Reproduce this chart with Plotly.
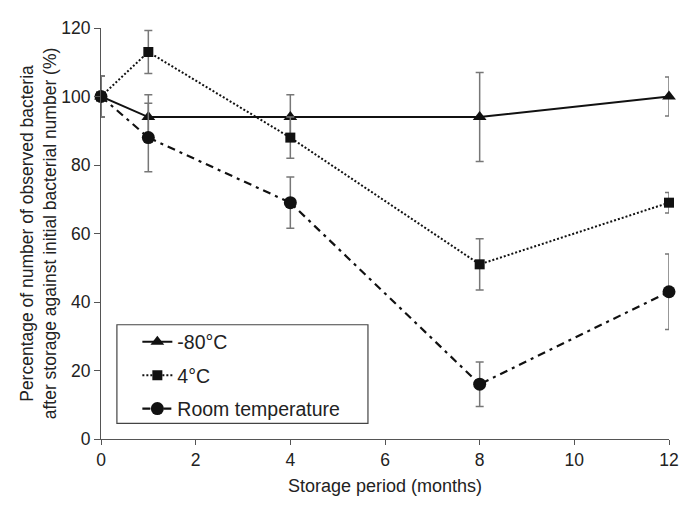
import plotly.graph_objects as go

months = [0, 1, 4, 8, 12]

minus80 = [100, 94, 94, 94, 100]
minus80_err = [6, 6.5, 6.5, 13, 5.7]

four_c = [100, 113, 88, 51, 69]
four_c_err = [6, 6.3, 6, 7.5, 3]

room = [100, 88, 69, 16, 43]
room_err = [6, 10, 7.5, 6.5, 11]

series = [
    ("-80°C", minus80, minus80_err, "solid", 2, "triangle-up", 12),
    ("4°C", four_c, four_c_err, "2px,2px", 2, "square", 10),
    ("Room temperature", room, room_err, "8px,5px,3px,5px", 2.2, "circle", 13),
]

fig = go.Figure()
for name, ys, errs, dash, lw, sym, size in series:
    fig.add_trace(go.Scatter(
        x=months, y=ys, name=name, mode="lines+markers", legendgroup=name,
        line=dict(color="#111111", width=lw, dash=dash),
        marker=dict(symbol=sym, size=size, color="#111111"),
        error_y=dict(type="data", array=errs, visible=True,
                     color="#777777", thickness=1.5, width=4),
        cliponaxis=False,
    ))

FONT = "Liberation Sans, Arial, sans-serif"
tick_font = dict(family=FONT, size=17.5, color="#222222")
fig.update_layout(
    width=682, height=502,
    margin=dict(l=93, r=21, t=10, b=71),
    paper_bgcolor="white", plot_bgcolor="white",
    font=dict(family=FONT, color="#222222"),
    showlegend=True,
    legend=dict(x=0.064, y=0.283, xanchor="left", yanchor="top",
                bgcolor="rgba(0,0,0,0)", borderwidth=0,
                font=dict(size=19.5, color="#222222"),
                itemwidth=30, tracegroupgap=5),
    shapes=[dict(type="rect", xref="paper", yref="paper",
                 x0=0.028, x1=0.47, y0=0.038, y1=0.278,
                 line=dict(color="#444444", width=1.2), fillcolor="white",
                 layer="below")],
)
fig.update_xaxes(
    range=[0, 12], tickvals=[0, 2, 4, 6, 8, 10, 12],
    showline=True, linecolor="#555555", linewidth=1.2,
    ticks="outside", ticklen=5, tickcolor="#555555",
    showgrid=False, zeroline=False, tickfont=tick_font,
    title=dict(text="Storage period (months)", font=dict(size=18, color="#222222"), standoff=10),
)
fig.update_yaxes(
    range=[0, 120], tickvals=[0, 20, 40, 60, 80, 100, 120],
    showline=True, linecolor="#555555", linewidth=1.2,
    ticks="outside", ticklen=6, tickcolor="#555555",
    showgrid=False, zeroline=False, tickfont=tick_font,
    title=dict(text="Percentage of number of observed bacteria<br>after storage against initial bacterial number (%)",
               font=dict(size=17.5, color="#222222"), standoff=0),
)

fig.write_html("out.html")
